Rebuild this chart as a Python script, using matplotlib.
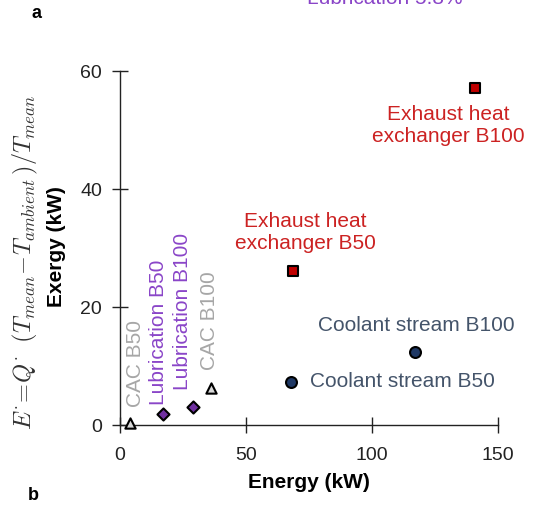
import matplotlib
matplotlib.use("Agg")
import matplotlib.pyplot as plt

plt.rcParams['font.family'] = ['Liberation Sans', 'DejaVu Sans']
plt.rcParams['mathtext.fontset'] = 'cm'

# data
names = ["CAC B50", "Lubrication B50", "Lubrication B100", "CAC B100",
         "Coolant stream B50", "Coolant stream B100",
         "Exhaust heat\nexchanger B50", "Exhaust heat\nexchanger B100"]
energy = [4, 17, 29, 36, 68, 117, 68.7, 141]
exergy = [0.3, 1.8, 3.1, 6.3, 7.3, 12.4, 26.1, 57.1]
groups = ["cac", "lub", "lub", "cac", "cool", "cool", "exh", "exh"]
x_ticks = [0, 50, 100, 150]
y_ticks = [0, 20, 40, 60]

styles = {
    "cac": dict(marker="^", face="#d9d9d9", text="#a6a6a6"),
    "lub": dict(marker="D", face="#7030a0", text="#8a45c8"),
    "cool": dict(marker="o", face="#1f3864", text="#44546a"),
    "exh": dict(marker="s", face="#c00000", text="#cc2222"),
}
sizes = {"^": 55, "D": 38, "o": 62, "s": 52}

# label placement (data coords) and rotation
label_pos = [(6, 3.0, 90, "bottom"), (15.1, 3.4, 90, "bottom"), (25, 5.9, 90, "bottom"),
             (35.7, 9.3, 90, "bottom"), (112, 7.3, 0, "center"), (117.5, 16.9, 0, "center"),
             (73.4, 32.6, 0, "center"), (130.2, 50.8, 0, "center")]

fig = plt.figure(figsize=(5.33, 5.07), dpi=100)
ax = fig.add_axes([120/533, 1-425/507, (498-120)/533, (425-71)/507])

for i in range(len(names)):
    st = styles[groups[i]]
    ax.scatter(energy[i], exergy[i], marker=st["marker"], s=sizes[st["marker"]],
               facecolor=st["face"], edgecolor="black", linewidth=1.5, zorder=3, clip_on=False)
    lx, ly, rot, va = label_pos[i]
    ax.text(lx, ly, names[i], color=st["text"], fontsize=15, rotation=rot,
            ha="center", va=va, linespacing=1.2)

ax.set_xlim(0, 150)
ax.set_ylim(0, 60)
ax.set_xticks(x_ticks)
ax.set_yticks(y_ticks)
for s in ["top", "right"]:
    ax.spines[s].set_visible(False)
for s in ["left", "bottom"]:
    ax.spines[s].set_color("#222222")
    ax.spines[s].set_linewidth(1.0)
ax.tick_params(direction="inout", length=12, width=1.0, labelsize=14,
               colors="#222222", pad=7)
ax.tick_params(axis="x", pad=10)

ax.set_xlabel("Energy (kW)", fontsize=15, fontweight="bold", labelpad=6)
fig.text(57/533, 1-247/507, "Exergy (kW)", fontsize=15, fontweight="bold",
         rotation=90, ha="center", va="center")
fig.text(25/533, 1-262/507,
         r"$E^{\cdot}\!=\!Q^{\cdot}\;\;(T_{mean}\!-\!T_{ambient}\,)/T_{mean}$",
         fontsize=17.5, rotation=90, ha="center", va="center", color="#333333")

fig.text(37/533, 1-14/507, "a", fontsize=13, fontweight="bold", ha="center", va="center")
fig.text(33/533, 1-495/507, "b", fontsize=13, fontweight="bold", ha="center", va="center")
fig.text(385/533, 1+1/507, "Lubrication 5.8%", fontsize=15, color="#8a45c8",
         ha="center", va="center")

fig.savefig("out.png", dpi=100)
